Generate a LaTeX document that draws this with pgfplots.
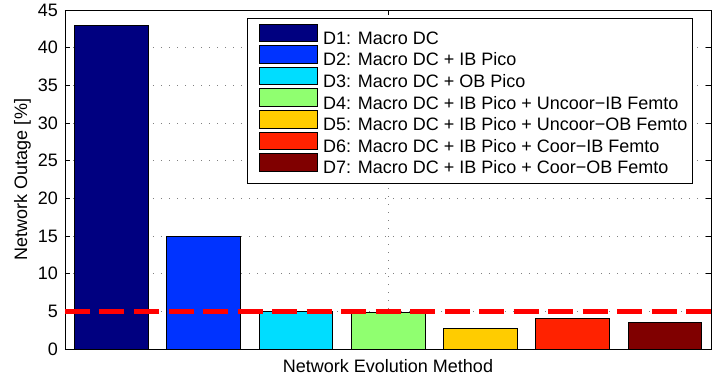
\documentclass[border=0pt]{standalone}
\usepackage{fontspec}
\setmainfont{Liberation Sans}
\usepackage{pgfplots}
\pgfplotsset{compat=1.18}
\definecolor{c1}{RGB}{0,0,128}
\definecolor{c2}{RGB}{0,51,255}
\definecolor{c3}{RGB}{0,221,255}
\definecolor{c4}{RGB}{144,255,112}
\definecolor{c5}{RGB}{255,204,0}
\definecolor{c6}{RGB}{255,34,0}
\definecolor{c7}{RGB}{128,0,0}
\newcommand{\chartfont}{\fontsize{18bp}{21bp}\selectfont}
\begin{document}
\begin{tikzpicture}[font=\chartfont]
\begin{axis}[
  scale only axis, width=646bp, height=339bp,
  xmin=0.5, xmax=7.5, ymin=0, ymax=45,
  ytick={0,5,...,45},
  xtick={4}, xticklabels={},
  xmajorgrids, ymajorgrids,
  grid style={gray, line width=0.6bp, dash pattern=on 1bp off 7bp},
  axis line style={line width=0.9bp},
  major tick length=5bp,
  tick style={line width=0.8bp, black},
  /pgf/number format/assume math mode=true,
  tick label style={font=\chartfont},
  label style={font=\chartfont},
  yticklabel style={inner xsep=0pt, xshift=-7bp},
  ylabel={Network Outage [\%]},
  ylabel style={at={(axis description cs:-0.0526,0.5)}, anchor=south, inner sep=0pt},
  xlabel={Network Evolution Method},
  xlabel style={at={(axis description cs:0.5,0)}, anchor=base, yshift=-23.7bp},
  legend cell align=left,
  legend image code/.code={%
    \path (0bp,0bp) (70bp,0bp);
    \draw[#1] (6bp,-1.7bp) rectangle (64bp,16bp);
  },
  legend style={at={(axis description cs:0.972,0.976)}, anchor=north east,
    font=\chartfont,
    draw=black, line width=0.9bp, fill=white,
    inner xsep=5bp, inner ysep=5bp, row sep=-3.2bp,
    nodes={inner xsep=0pt, inner ysep=0pt, text height=13bp, text depth=4bp}},
]
\addplot[ybar, bar width=0.8, bar shift=0pt, fill=c1, draw=black, line width=0.6bp] coordinates {(1,43)};
\addplot[ybar, bar width=0.8, bar shift=0pt, fill=c2, draw=black, line width=0.6bp] coordinates {(2,15)};
\addplot[ybar, bar width=0.8, bar shift=0pt, fill=c3, draw=black, line width=0.6bp] coordinates {(3,5.0)};
\addplot[ybar, bar width=0.8, bar shift=0pt, fill=c4, draw=black, line width=0.6bp] coordinates {(4,4.85)};
\addplot[ybar, bar width=0.8, bar shift=0pt, fill=c5, draw=black, line width=0.6bp] coordinates {(5,2.8)};
\addplot[ybar, bar width=0.8, bar shift=0pt, fill=c6, draw=black, line width=0.6bp] coordinates {(6,4.1)};
\addplot[ybar, bar width=0.8, bar shift=0pt, fill=c7, draw=black, line width=0.6bp] coordinates {(7,3.55)};
\addplot[red, line width=5bp, dash pattern=on 25bp off 9.5bp, forget plot] coordinates {(0.5,5) (7.5,5)};
\legend{D1: Macro DC, D2: Macro DC + IB Pico, D3: Macro DC + OB Pico,
  D4: Macro DC + IB Pico + Uncoor−IB Femto,
  D5: Macro DC + IB Pico + Uncoor−OB Femto,
  D6: Macro DC + IB Pico + Coor−IB Femto,
  D7: Macro DC + IB Pico + Coor−OB Femto}
\end{axis}
\path ([shift={(-65bp,-33bp)}]current axis.south west) rectangle ([shift={(6bp,10bp)}]current axis.north east);
\end{tikzpicture}
\end{document}
